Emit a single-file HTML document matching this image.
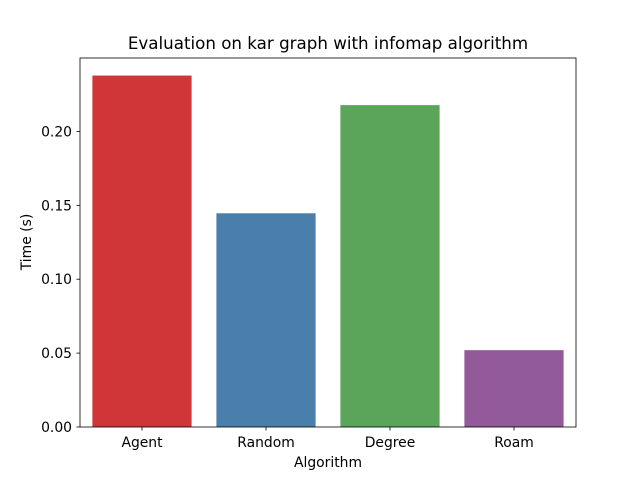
<!DOCTYPE html>
<html><head><meta charset="utf-8"><style>
body{margin:0;background:#fff;font-family:"Liberation Sans","DejaVu Sans",sans-serif}
svg text{font-family:"DejaVu Sans","Liberation Sans",sans-serif;fill:#000}
</style></head><body>
<svg id="chart" width="640" height="480" xmlns="http://www.w3.org/2000/svg">
<rect width="640" height="480" fill="#fff"/>
<text x="328" y="49" font-size="16.7" text-anchor="middle">Evaluation on kar graph with infomap algorithm</text>
<g id="bars"></g>
<g id="axes"></g>
<text x="328" y="467" font-size="13.9" text-anchor="middle">Algorithm</text>
<text transform="translate(31,242) rotate(-90)" font-size="13.9" text-anchor="middle">Time (s)</text>
</svg>
<script>
const categories=["Agent","Random","Degree","Roam"];
const values=[0.2378,0.1446,0.2178,0.0520];
const colors=["#d03538","#4a7eab","#5ba55a","#935a9a"];
const yTicks=[0,0.05,0.10,0.15,0.20];
const yTickLabels=["0.00","0.05","0.10","0.15","0.20"];
const L=80,R=576,T=58,B=427;
const ymax=Math.max(...values)*1.05;
const ys=v=>B-(v/ymax)*(B-T);
const xs=i=>L+(i+0.5)/categories.length*(R-L);
const bw=0.8*(R-L)/categories.length;
const NS="http://www.w3.org/2000/svg";
const bars=document.getElementById('bars'),axes=document.getElementById('axes');
function mk(tag,attrs,parent){const e=document.createElementNS(NS,tag);for(const k in attrs)e.setAttribute(k,attrs[k]);parent.appendChild(e);return e;}
values.forEach((v,i)=>{
 const r=mk('rect',{x:xs(i)-bw/2,y:ys(v),width:bw,height:B-ys(v),fill:colors[i]},bars);
 
 
 mk('line',{x1:xs(i),x2:xs(i),y1:B,y2:B+3.5,stroke:'#000','stroke-width':0.8},axes);
 const t=mk('text',{x:xs(i),y:B+20,'font-size':13.9,'text-anchor':'middle'},axes);
 t.textContent=categories[i];
 
 
});
yTicks.forEach((v,i)=>{
 mk('line',{x1:L-3.5,x2:L,y1:ys(v),y2:ys(v),stroke:'#000','stroke-width':0.8},axes);
 const t=mk('text',{x:L-8,y:ys(v)+5,'font-size':13.9,'text-anchor':'end'},axes);
 t.textContent=yTickLabels[i];
 
 
});
const f=mk('rect',{x:L,y:T,width:R-L,height:B-T,fill:'none',stroke:'#000','stroke-width':0.8},axes);


</script>
</body></html>
